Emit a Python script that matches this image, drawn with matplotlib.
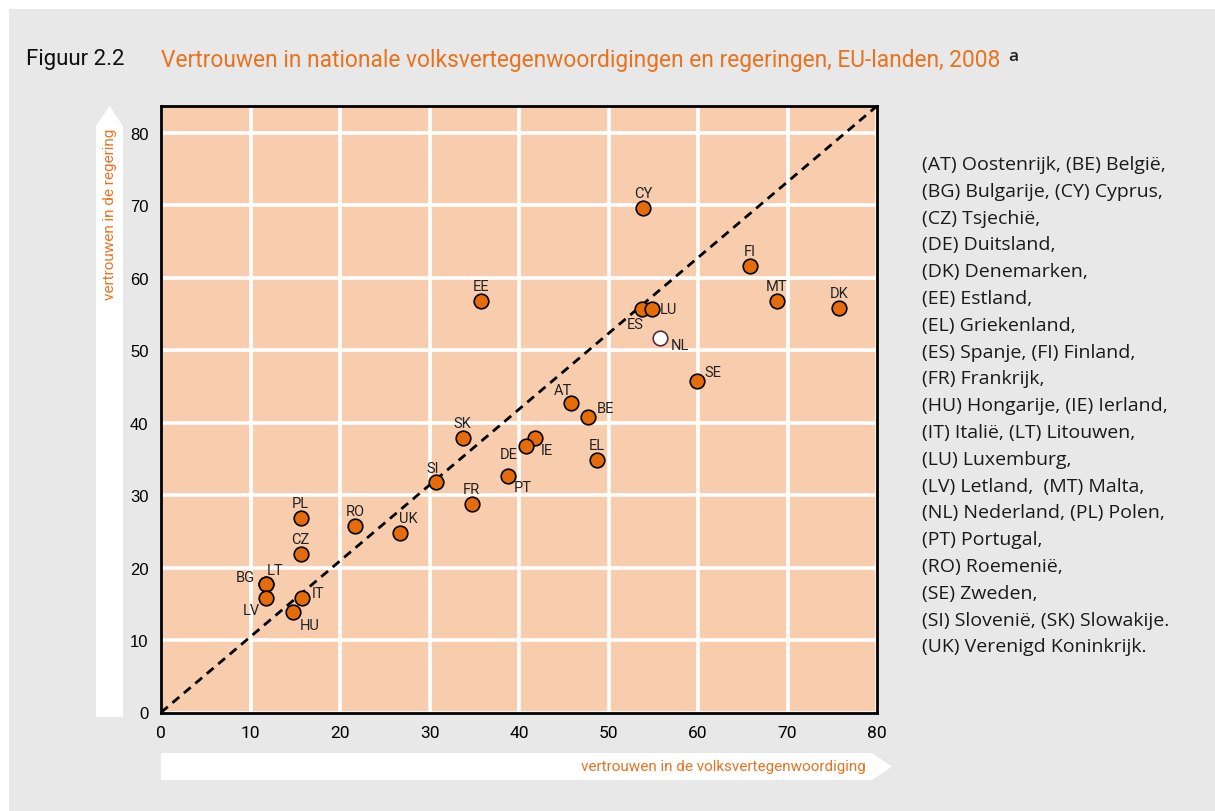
import matplotlib
matplotlib.use("Agg")
import matplotlib.pyplot as plt
from matplotlib.patches import Polygon
import numpy as np

# ---- data ----
countries = ["CY", "FI", "MT", "DK", "EE", "ES", "LU", "NL", "SE", "AT", "BE",
             "SK", "IE", "DE", "EL", "PT", "SI", "FR", "PL", "RO", "UK", "CZ",
             "LT", "BG", "LV", "IT", "HU"]
parliament = [53.9, 65.8, 68.8, 75.8, 35.8, 53.7, 54.9, 55.8, 59.9, 45.8, 47.7,
              33.7, 41.8, 40.8, 48.7, 38.8, 30.7, 34.7, 15.6, 21.7, 26.7, 15.6,
              11.7, 11.7, 11.7, 15.8, 14.7]
government = [69.6, 61.7, 56.8, 55.8, 56.8, 55.7, 55.7, 51.7, 45.7, 42.7, 40.8,
              37.9, 37.9, 36.8, 34.8, 32.6, 31.8, 28.8, 26.8, 25.7, 24.8, 21.9,
              17.7, 17.7, 15.8, 15.8, 13.9]
highlight = ["NL"]

xticks = [0, 10, 20, 30, 40, 50, 60, 70, 80]
yticks = [0, 10, 20, 30, 40, 50, 60, 70, 80]

legend_lines = [
    "(AT) Oostenrijk, (BE) België,",
    "(BG) Bulgarije, (CY) Cyprus,",
    "(CZ) Tsjechië,",
    "(DE) Duitsland,",
    "(DK) Denemarken,",
    "(EE) Estland,",
    "(EL) Griekenland,",
    "(ES) Spanje, (FI) Finland,",
    "(FR) Frankrijk,",
    "(HU) Hongarije, (IE) Ierland,",
    "(IT) Italië, (LT) Litouwen,",
    "(LU) Luxemburg,",
    "(LV) Letland,  (MT) Malta,",
    "(NL) Nederland, (PL) Polen,",
    "(PT) Portugal,",
    "(RO) Roemenië,",
    "(SE) Zweden,",
    "(SI) Slovenië, (SK) Slowakije.",
    "(UK) Verenigd Koninkrijk.",
]

# label placement (offset in pixels, horizontal alignment)
label_pos = {
    "ES": (-6, -15, "center"), "LU": (7, 0, "left"), "NL": (10, -7, "left"),
    "SE": (7, 9, "left"), "AT": (-8, 13, "center"), "BE": (9, 9, "left"),
    "IE": (6, -12, "left"), "DE": (-17, -8, "center"), "PT": (5, -11, "left"),
    "SI": (-3, 14, "center"), "UK": (8, 15, "center"), "LT": (9, 14, "center"),
    "BG": (-20, 7, "center"), "LV": (-14, -12, "center"), "IT": (9, 5, "left"),
    "HU": (7, -13, "left"),
}

W, H = 1215, 812
BG = "#e8e8e8"
PEACH = "#f8cdae"
ORANGE = "#e46c0a"
TITLE_OR = "#e8731f"
NARROW = ["Roboto", "DejaVu Sans"]
HUMAN = ["Open Sans", "DejaVu Sans"]

fig = plt.figure(figsize=(W / 100, H / 100), dpi=100)
fig.patch.set_facecolor("white")

def fx(px):
    return px / W

def fy(py):
    return 1 - py / H

# gray panel with white margin top/left
fig.patches.append(Polygon([[fx(9), fy(10)], [1, fy(10)], [1, 0], [fx(9), 0]],
                           closed=True, transform=fig.transFigure,
                           facecolor=BG, edgecolor="none", zorder=-5))

ax_l, ax_r, ax_t, ax_b = 161, 877, 107, 713.5
ax = fig.add_axes([fx(ax_l), fy(ax_b), fx(ax_r - ax_l), (ax_b - ax_t) / H])
ax.set_zorder(5)
ax.set_facecolor(PEACH)
ymax = (ax_b - ax_t) / ((ax_b - 134) / 80)
ax.set_xlim(0, 80)
ax.set_ylim(0, ymax)
ax.set_xticks(xticks)
ax.set_yticks(yticks)
ax.grid(True, color="white", linewidth=2.6)
ax.set_axisbelow(True)
for s in ax.spines.values():
    s.set_color("black")
    s.set_linewidth(2)
ax.tick_params(length=0, pad=9)
for lab in ax.get_xticklabels():
    lab.set_fontfamily(NARROW)
    lab.set_fontsize(12.5)
for lab in ax.get_yticklabels():
    lab.set_fontfamily(["Liberation Sans", "DejaVu Sans"])
    lab.set_fontsize(12)

# diagonal corner to corner
ax.plot([0, 80], [0, ymax], linestyle=(0, (3.2, 2.2)), color="black",
        linewidth=2, zorder=2)

for c, x, y in zip(countries, parliament, government):
    fc = "white" if c in highlight else ORANGE
    ec = "#5a2a45" if c in highlight else "black"
    ax.plot(x, y, "o", markersize=10.5, markerfacecolor=fc,
            markeredgecolor=ec, markeredgewidth=1.2, zorder=3)
    dx, dy, ha = label_pos.get(c, (0, 15, "center"))
    ax.annotate(c, (x, y), xytext=(dx, dy), textcoords="offset pixels",
                ha=ha, va="center", fontsize=10.5, family=NARROW,
                color="#222222", zorder=4)

# title
fig.text(fx(26), fy(60), "Figuur 2.2", fontsize=16, family=NARROW,
         color="#111111", va="center", ha="left")
fig.text(fx(161), fy(60),
         "Vertrouwen in nationale volksvertegenwoordigingen en regeringen, EU-landen, 2008",
         fontsize=16.4, family=NARROW, color=TITLE_OR, va="center", ha="left")
fig.text(fx(1008), fy(57), "a", fontsize=12.5, family=HUMAN, weight="semibold",
         color="#222222", va="center", ha="left")

# y arrow
fig.patches.append(Polygon([[fx(96), fy(718)], [fx(96), fy(127)], [fx(109.5), fy(107)],
                            [fx(123), fy(127)], [fx(123), fy(718)]],
                           closed=True, transform=fig.transFigure,
                           facecolor="white", edgecolor="none", zorder=1))
fig.text(fx(110), fy(129), "vertrouwen in de regering", rotation=90,
         fontsize=11, family=NARROW, color=TITLE_OR, ha="center", va="top")

# x arrow
fig.patches.append(Polygon([[fx(161), fy(754)], [fx(872), fy(754)], [fx(892), fy(767.5)],
                            [fx(872), fy(781)], [fx(161), fy(781)]],
                           closed=True, transform=fig.transFigure,
                           facecolor="white", edgecolor="none", zorder=1))
fig.text(fx(866), fy(767), "vertrouwen in de volksvertegenwoordiging",
         fontsize=11, family=NARROW, color=TITLE_OR, ha="right", va="center")

# legend text, one line at a time
for i, line in enumerate(legend_lines):
    fig.text(fx(922), fy(165 + i * 26.8), line, fontsize=14,
             family=HUMAN, color="#1a1a1a", ha="left", va="center")

fig.savefig("out.png", dpi=100, facecolor=fig.get_facecolor())
